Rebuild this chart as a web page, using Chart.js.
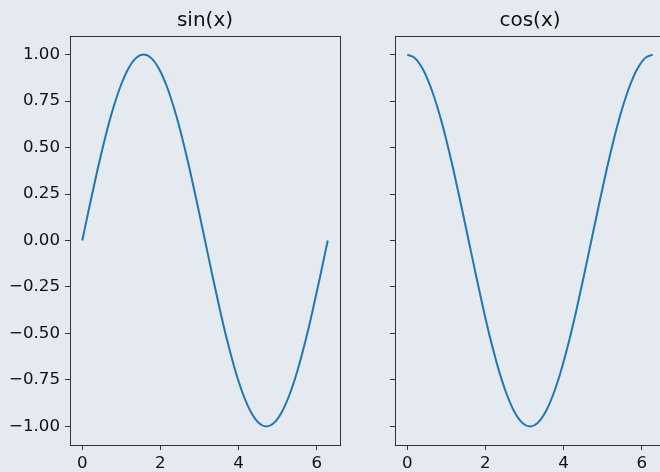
<!DOCTYPE html>
<html>
<head>
<meta charset="utf-8">
<script src="https://cdn.jsdelivr.net/npm/chart.js@4.4.0/dist/chart.umd.min.js"></script>
<style>
  html, body { margin: 0; padding: 0; width: 660px; height: 472px; overflow: hidden; background: #e5eaf0; }
  canvas { position: absolute; top: 0; }
  #sinChart { left: 0; }
  #cosChart { left: 325px; }
</style>
</head>
<body>
<canvas id="sinChart" width="350" height="472"></canvas>
<canvas id="cosChart" width="350" height="472"></canvas>
<script>
// sample positions, 0 .. 2pi
const xValues = [0, 0.196, 0.393, 0.589, 0.785, 0.982, 1.178, 1.374, 1.571, 1.767, 1.963,
  2.160, 2.356, 2.553, 2.749, 2.945, 3.142, 3.338, 3.534, 3.731, 3.927, 4.123, 4.320,
  4.516, 4.712, 4.909, 5.105, 5.301, 5.498, 5.694, 5.890, 6.087, 6.283];
const sinValues = [0, 0.195, 0.383, 0.556, 0.707, 0.831, 0.924, 0.981, 1, 0.981, 0.924,
  0.831, 0.707, 0.556, 0.383, 0.195, 0, -0.195, -0.383, -0.556, -0.707, -0.831, -0.924,
  -0.981, -1, -0.981, -0.924, -0.831, -0.707, -0.556, -0.383, -0.195, 0];
const cosValues = [1, 0.981, 0.924, 0.831, 0.707, 0.556, 0.383, 0.195, 0, -0.195, -0.383,
  -0.556, -0.707, -0.831, -0.924, -0.981, -1, -0.981, -0.924, -0.831, -0.707, -0.556, -0.383,
  -0.195, 0, 0.195, 0.383, 0.556, 0.707, 0.831, 0.924, 0.981, 1];
const xTicks = [0, 2, 4, 6];
const yTicks = [-1, -0.75, -0.5, -0.25, 0, 0.25, 0.5, 0.75, 1];

Chart.defaults.font.family = "'DejaVu Sans', sans-serif";
Chart.defaults.color = '#111';
const ink = '#333';

// box around the plot area (all four spines)
const frame = {
  id: 'frame',
  afterDraw(chart) {
    const a = chart.chartArea, ctx = chart.ctx;
    ctx.save();
    ctx.strokeStyle = ink;
    ctx.lineWidth = 1;
    ctx.strokeRect(Math.round(a.left) + 0.5, Math.round(a.top) + 0.5,
      Math.round(a.right - a.left), Math.round(a.bottom - a.top));
    ctx.restore();
  }
};

function makeChart(id, title, yValues, showYLabels) {
  const points = xValues.map((x, i) => ({ x: x, y: yValues[i] }));
  return new Chart(document.getElementById(id), {
    type: 'line',
    data: {
      datasets: [{
        data: points,
        borderColor: '#1f77b4',
        borderWidth: 2,
        pointRadius: 0,
        cubicInterpolationMode: 'monotone',
        fill: false
      }]
    },
    options: {
      responsive: false,
      animation: false,
      layout: { padding: { left: 0, right: 10, top: 0, bottom: 0 } },
      plugins: {
        legend: { display: false },
        tooltip: { enabled: false },
        title: {
          display: true,
          text: title,
          fullSize: false,
          color: '#111',
          font: { size: 20, weight: 'normal' },
          padding: { top: 9, bottom: 3 }
        }
      },
      scales: {
        x: {
          type: 'linear',
          min: -0.314,
          max: 6.597,
          afterBuildTicks: s => { s.ticks = xTicks.map(v => ({ value: v })); },
          afterFit: s => { s.height = 27; },
          border: { display: false },
          grid: { drawOnChartArea: false, tickLength: 5, color: ink },
          ticks: { font: { size: 16.67 }, padding: 4, maxRotation: 0, callback: v => String(v) }
        },
        y: {
          type: 'linear',
          min: -1.1,
          max: 1.1,
          afterBuildTicks: s => { s.ticks = yTicks.map(v => ({ value: v })); },
          afterFit: s => { s.width = 70; },
          border: { display: false },
          grid: { drawOnChartArea: false, tickLength: 5, color: ink },
          ticks: {
            display: showYLabels,
            font: { size: 16.67 },
            padding: 5,
            callback: v => v.toFixed(2).replace('-', '\u2212')
          }
        }
      }
    },
    plugins: [frame]
  });
}

makeChart('sinChart', 'sin(x)', sinValues, true);
makeChart('cosChart', 'cos(x)', cosValues, false);
</script>
</body>
</html>
